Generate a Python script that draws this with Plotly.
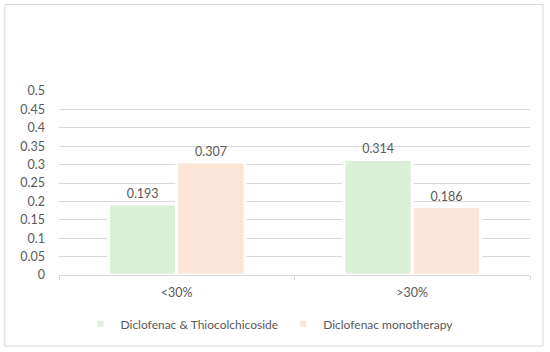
import plotly.graph_objects as go

categories = ["<30%", ">30%"]
series_names = ["Diclofenac & Thiocolchicoside", "Diclofenac monotherapy"]
combo_values = [0.193, 0.314]
mono_values = [0.307, 0.186]
y_tick_vals = [0, 0.05, 0.1, 0.15, 0.2, 0.25, 0.3, 0.35, 0.4, 0.45, 0.5]
y_tick_text = ["0", "0.05", "0.1", "0.15", "0.2", "0.25", "0.3", "0.35", "0.4", "0.45", "0.5"]

colors = ["#DCEFD8", "#FCE4D6"]
txt = "#595959"
grid = "#D9D9D9"
font_family = "Lato, Open Sans, sans-serif"
fs = 12.5

fig = go.Figure()
for name, vals, col in zip(series_names, [combo_values, mono_values], colors):
    fig.add_trace(go.Bar(
        x=categories, y=vals, name=name,
        marker=dict(color=col, line=dict(color="white", width=3)),
        text=[f"{v:g}" for v in vals], textposition="outside",
        textfont=dict(color=txt, size=fs, family=font_family),
        cliponaxis=False, showlegend=False,
    ))
    fig.add_trace(go.Scatter(
        x=[None], y=[None], mode="markers", name=name,
        marker=dict(symbol="square", size=6, color=col),
        showlegend=True,
    ))

fig.update_layout(
    width=550, height=352,
    margin=dict(l=59, r=20, t=91, b=77, autoexpand=False),
    paper_bgcolor="white", plot_bgcolor="white",
    barmode="group", bargap=0.42, bargroupgap=0,
    font=dict(family=font_family, color=txt, size=fs),
    legend=dict(orientation="h", xref="container", x=0.49, xanchor="center",
                yref="container", y=0.08, yanchor="middle",
                itemwidth=30, font=dict(size=12, color=txt),
                traceorder="normal"),
    shapes=[dict(type="rect", xref="paper", yref="paper",
                 x0=-0.115, x1=1.0276, y0=-0.386, y1=1.47,
                 line=dict(color=grid, width=1), layer="below")],
)
fig.update_yaxes(range=[0, 0.5], tickvals=y_tick_vals, ticktext=y_tick_text,
                 showgrid=True, gridcolor=grid, gridwidth=1, zeroline=False,
                 showline=False, ticks="", ticklabelstandoff=13,
                 tickfont=dict(size=fs, color=txt))
fig.update_xaxes(showline=True, linecolor=grid, linewidth=1,
                 ticks="outside", tickson="boundaries", ticklen=4, tickcolor=grid,
                 ticklabelstandoff=6, tickfont=dict(size=fs, color=txt))

fig.write_html("out.html", config={"displayModeBar": False},
               post_script="document.body.style.margin='0';")
